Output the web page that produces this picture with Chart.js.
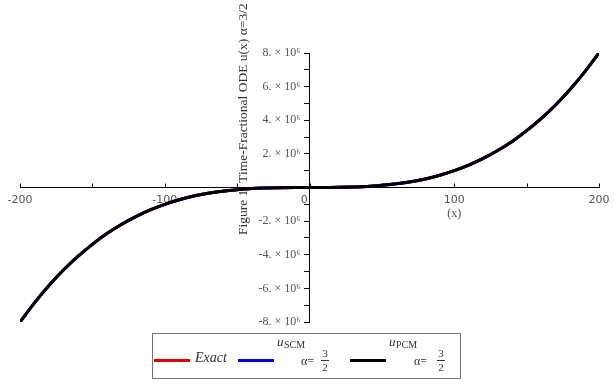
<html>
<head>
<title>Time-Fractional ODE</title>
<script src="https://cdn.jsdelivr.net/npm/chart.js"></script>
<style>
  body { margin: 0; background: #fff; }
  #wrap { position: relative; width: 614px; height: 387px; }
  #legend { position: absolute; left: 152px; top: 333px; width: 309px; height: 46px;
            border: 1px solid #777; box-sizing: border-box; font-family: "Liberation Serif", serif; color: #333; }
  #legend .ln { position: absolute; top: 25px; height: 3px; width: 36px; }
  #legend span { position: absolute; white-space: nowrap; }
  #legend .fr { font-size: 11px; line-height: 11px; text-align: center; }
  #legend .bar { position: static; display: block; border-top: 1px solid #333; width: 8px; margin: 1px 0; }
</style>
</head>
<body>
<div id="wrap">
  <canvas id="myChart" width="614" height="387"></canvas>
  <div id="legend">
    <div class="ln" style="left:1px;background:#e00000"></div>
    <span style="left:42px;top:16px;font-size:14px;font-style:italic">Exact</span>
    <div class="ln" style="left:85px;background:#0000e0"></div>
    <span style="left:124px;top:0px;font-size:13px;font-style:italic">u</span>
    <span style="left:131px;top:5px;font-size:10px">SCM</span>
    <span style="left:148px;top:20px;font-size:12px">&alpha;=</span>
    <span class="fr" style="left:168px;top:14px">3<span class="bar"></span>2</span>
    <div class="ln" style="left:197px;background:#000"></div>
    <span style="left:236px;top:0px;font-size:13px;font-style:italic">u</span>
    <span style="left:243px;top:5px;font-size:10px">PCM</span>
    <span style="left:261px;top:20px;font-size:12px">&alpha;=</span>
    <span class="fr" style="left:284px;top:14px">3<span class="bar"></span>2</span>
  </div>
</div>
<script>
// values (x every 10)
const xValues = [-200,-190,-180,-170,-160,-150,-140,-130,-120,-110,-100,-90,-80,-70,-60,-50,-40,-30,-20,-10,
                 0,10,20,30,40,50,60,70,80,90,100,110,120,130,140,150,160,170,180,190,200];
const uPCM = [-8000000,-6860000,-5830000,-4910000,-4100000,-3380000,-2740000,-2200000,-1730000,-1330000,
              -1000000,-730000,-510000,-340000,-220000,-130000,-60000,-30000,-10000,0,
              0,0,10000,30000,60000,130000,220000,340000,510000,730000,
              1000000,1330000,1730000,2200000,2740000,3380000,4100000,4910000,5830000,6860000,8000000];
const uSCM = uPCM.slice();
const uExact = uPCM.slice();
const xTicks = [-200,-100,0,100,200];
const yTicks = [-8,-6,-4,-2,2,4,6,8];
const titleText = 'Figure 1. Time-Fractional ODE u(x) \u03b1=3/2';

function pts(ys){ return xValues.map(function(x,i){ return {x:x, y:ys[i]}; }); }

const extras = {
  id: 'extras',
  beforeDatasetsDraw: function(chart){
    const ctx = chart.ctx;
    ctx.save();
    ctx.translate(243, 235);
    ctx.rotate(-Math.PI/2);
    ctx.font = '13.5px "Liberation Serif", serif';
    ctx.fillStyle = '#333';
    ctx.textAlign = 'left';
    ctx.textBaseline = 'middle';
    ctx.fillText(titleText, 0, 0);
    ctx.restore();
    ctx.save();
    ctx.font = '12px "Liberation Serif", serif';
    ctx.fillStyle = '#555';
    ctx.textAlign = 'center';
    ctx.fillText('(x)', chart.scales.x.getPixelForValue(100), 217);
    ctx.restore();
  },
  afterDraw: function(chart){
    // x tick marks point upward like the original
    const xs = chart.scales.x, y0 = chart.scales.y.getPixelForValue(0);
    const ctx = chart.ctx;
    ctx.save();
    ctx.strokeStyle = '#000';
    ctx.lineWidth = 1;
    xs.ticks.forEach(function(t){
      const px = Math.round(xs.getPixelForValue(t.value)) + 0.5;
      ctx.beginPath();
      ctx.moveTo(px, y0);
      ctx.lineTo(px, y0 - 4);
      ctx.stroke();
    });
    ctx.restore();
  }
};

var ctx = document.getElementById('myChart').getContext('2d');
var myChart = new Chart(ctx, {
  type: 'line',
  data: {
    datasets: [
      {label: 'uPCM', data: pts(uPCM), borderColor: '#000', borderWidth: 3, pointRadius: 0, cubicInterpolationMode: 'monotone'},
      {label: 'uSCM', data: pts(uSCM), borderColor: '#0000e0', borderWidth: 3, pointRadius: 0, cubicInterpolationMode: 'monotone'},
      {label: 'Exact', data: pts(uExact), borderColor: '#e00000', borderWidth: 3, pointRadius: 0, cubicInterpolationMode: 'monotone'}
    ]
  },
  options: {
    responsive: false,
    animation: false,
    layout: {padding: {left: 20, right: 15, top: 53, bottom: 65}},
    plugins: {legend: {display: false}, tooltip: {enabled: false}},
    scales: {
      x: {
        type: 'linear', min: -200, max: 200,
        position: {y: 0},
        border: {display: true, color: '#000', width: 1},
        grid: {drawOnChartArea: false, drawTicks: true, tickLength: 4, tickColor: 'rgba(0,0,0,0)'},
        ticks: {
          stepSize: 50, autoSkip: false, maxRotation: 0, padding: 2,
          color: '#555', font: {family: '"DejaVu Sans", sans-serif', size: 11},
          callback: function(v){
            if (xTicks.indexOf(v) < 0) return '';
            return v === 0 ? '0   ' : String(v); // the 0 sits left of the y axis
          }
        }
      },
      y: {
        type: 'linear', min: -8000000, max: 8000000,
        position: {x: 0},
        border: {display: true, color: '#000', width: 1},
        grid: {drawOnChartArea: false, drawTicks: true, tickLength: 5, color: '#000'},
        ticks: {
          stepSize: 1000000, autoSkip: false,
          color: '#555', font: {family: '"Liberation Serif", serif', size: 12},
          callback: function(v){
            var m = Math.round(v/1000000);
            if (yTicks.indexOf(m) < 0) return '';
            // trailing spaces keep the label clear of the axis
            return (m < 0 ? '-' : '') + m * (m < 0 ? -1 : 1) + '. \u00d7 10\u2076   ';
          }
        }
      }
    }
  },
  plugins: [extras]
});
</script>
</body>
</html>
